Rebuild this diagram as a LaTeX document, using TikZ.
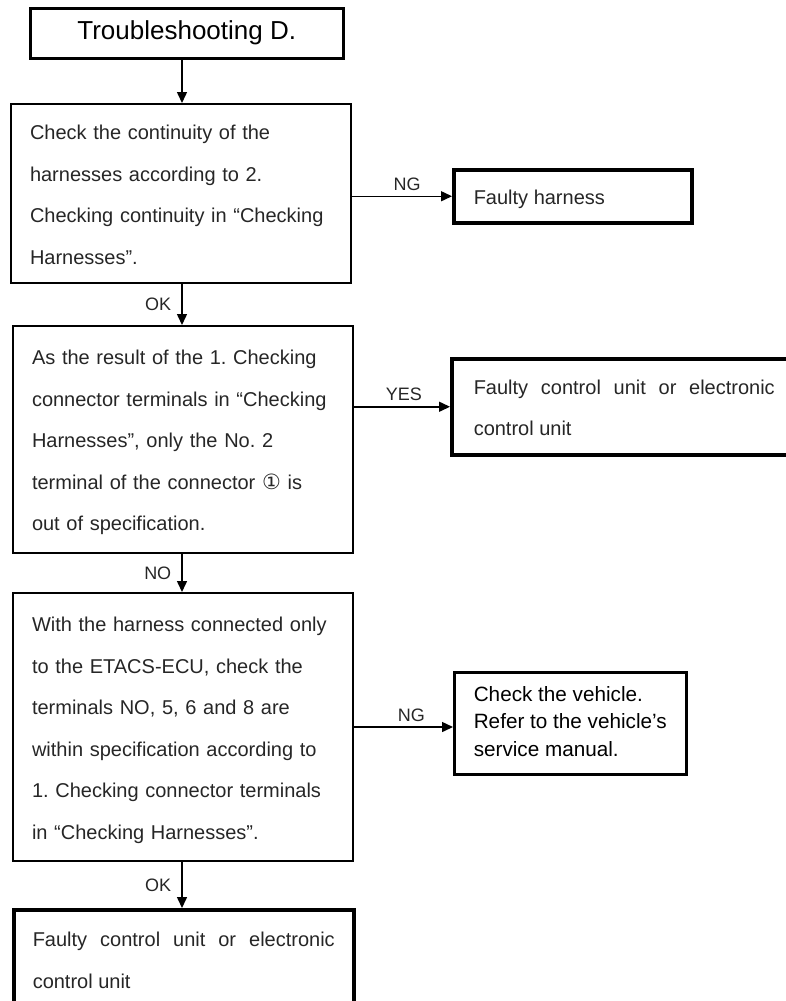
\documentclass[tikz,border=0pt]{standalone}
\usepackage{fontspec}
\setmainfont{Liberation Sans}
\newfontfamily\symfont{DejaVu Sans}
\usetikzlibrary{arrows.meta}
\frenchspacing

\begin{document}
\begin{tikzpicture}[x=1pt, y=-1pt,
	stepbox/.style={draw, line width=2pt, anchor=north west, inner xsep=19pt, inner ysep=0pt, text width=302pt, align=left, text=black!85, font=\fontsize{20}{41.5}\selectfont},
	endbox/.style={stepbox, line width=3.5pt, align=justify},
	flow/.style={line width=1.5pt, -{Triangle[width=10pt,length=11pt]}},
	answer/.style={font=\fontsize{18}{20}\selectfont, text=black!85, inner sep=0pt}]
	\useasboundingbox (0,0) rectangle (785,1001);
	\coordinate (spine) at (182,0);
	\node[draw, line width=2.5pt, anchor=north west, minimum width=313pt, minimum height=50pt, font=\fontsize{26}{30}\selectfont] (title) at (29,7) {Troubleshooting D.};
	\node[stepbox, minimum height=179pt] (chk) at (10,103) {\strut Check the continuity of the\\ harnesses according to 2.\\ Checking continuity in “Checking\\ Harnesses”.\strut};
	\node[stepbox, minimum height=227pt] (res) at (12,325) {\strut As the result of the 1. Checking\\ connector terminals in “Checking\\ Harnesses”, only the No. 2\\ terminal of the connector {\symfont\fontsize{21}{20}\selectfont ①} is\\ out of specification.\strut};
	\node[stepbox, minimum height=268pt] (term) at (12,592) {\strut With the harness connected only\\ to the ETACS-ECU, check the\\ terminals NO, 5, 6 and 8 are\\ within specification according to\\ 1. Checking connector terminals\\ in “Checking Harnesses”.\strut};
	\node[endbox, minimum height=99pt] (unit2) at (12,908) {\strut Faulty control unit or electronic control unit\strut};
	\node[endbox, inner xsep=20pt, text width=198pt, minimum height=53pt] (harn) at (452,168) {\strut Faulty harness\strut};
	\node[endbox, inner xsep=22pt, text width=301pt, minimum height=96pt] (unit1) at (450,357) {\strut Faulty control unit or electronic control unit\strut};
	\node[draw, line width=2.5pt, anchor=north west, inner xsep=0pt, minimum width=232pt, minimum height=102pt, align=left, font=\fontsize{20.7}{27.5}\selectfont] (veh) at (453,671) {\strut Check the vehicle.\\ Refer to the vehicle’s\\ service manual.\strut};

	\draw[flow] (title.south -| spine) -- (chk.north -| spine);
	\foreach \a/\b/\l in {chk/res/OK, res/term/NO, term/unit2/OK}
		\draw[flow] (\a.south -| spine) -- node[answer, left=10pt] {\l} (\b.north -| spine);
	\draw[flow] (chk.east |- harn.west) -- node[answer, above=5pt, pos=0.55] {NG} (harn.west);
	\draw[flow] (res.east |- unit1.west) -- node[answer, above=5pt, pos=0.52] {YES} (unit1.west);
	\draw[flow] (term.east) -- node[answer, above=5pt, pos=0.58] {NG} (term.east -| veh.west);
\end{tikzpicture}
\end{document}
